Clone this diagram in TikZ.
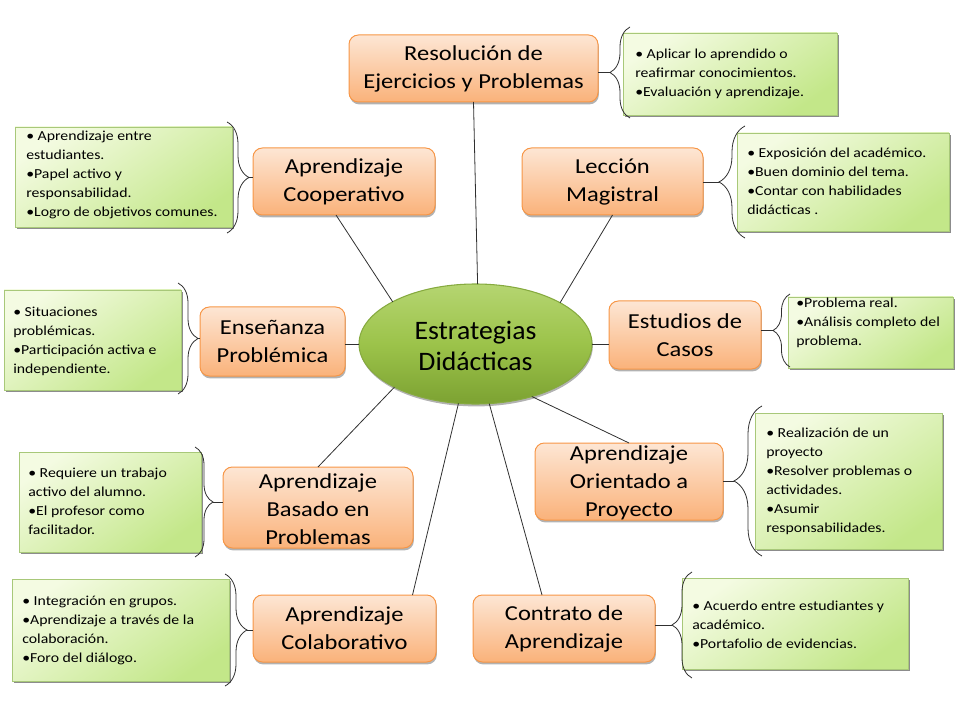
\documentclass[tikz,border=0pt]{standalone}
\usepackage{fontspec}
\setmainfont{Carlito}
\newfontfamily\boxfont[FakeStretch=1.15]{Carlito}
\newfontfamily\ellfont[FakeStretch=1.04]{Carlito}
\newfontfamily\notefont[FakeStretch=1.15]{Carlito}
\usetikzlibrary{shapes.geometric,shadows,decorations.pathreplacing}
\definecolor{obord}{HTML}{F79646}
\definecolor{otop}{HTML}{FDE6D4}
\definecolor{obot}{HTML}{FAB27A}
\definecolor{gtop}{HTML}{F4FBE2}
\definecolor{gbot}{HTML}{C3E789}
\definecolor{gbord}{HTML}{A8C879}
\definecolor{etop}{HTML}{B5D571}
\definecolor{emid}{HTML}{9CC34A}
\definecolor{ebot}{HTML}{7CA232}
\definecolor{ebord}{HTML}{86AA3F}
\definecolor{lnc}{HTML}{303030}
\begin{document}
\begin{tikzpicture}[x=0.75pt,y=-0.75pt,
  obox/.style={draw=obord, line width=0.75pt, rounded corners=7pt,
    top color=otop, bottom color=obot, inner sep=0pt, outer sep=0pt,
    drop shadow={shadow xshift=0.6pt, shadow yshift=-1.8pt, opacity=0.3, fill=black}},
  otext/.style={align=center, inner sep=0pt, font=\boxfont\fontsize{16}{21}\selectfont},
  gnote/.style={draw=gbord, line width=0.6pt, anchor=north west, inner sep=0pt, outer sep=0pt,
    top color=gtop, bottom color=gbot, shading angle=35,
    drop shadow={shadow xshift=1.8pt, shadow yshift=-1.8pt, opacity=0.45, fill=black}},
  ntext/.style={anchor=base west, inner sep=0pt, font=\notefont\fontsize{10.3}{14.25}\selectfont},
  brc/.style={draw=lnc, line width=0.6pt, decorate, decoration={brace, amplitude=#1}},
  conn/.style={draw=lnc, line width=0.6pt}
]
\useasboundingbox (0,0) rectangle (960,720);

% ---------- green notes ----------
\node[gnote, minimum width=160.5pt, minimum height=61.5pt] (nA) at (623,33) {};
\node[gnote, minimum width=162.75pt, minimum height=75pt] (nB) at (15,127) {};
\node[gnote, minimum width=159pt, minimum height=73.5pt] (nC) at (737,133) {};
\node[gnote, minimum width=132.75pt, minimum height=75pt] (nD) at (4,290) {};
\node[gnote, minimum width=123.75pt, minimum height=53.25pt] (nE) at (788,297) {};
\node[gnote, minimum width=140.25pt, minimum height=102pt] (nF) at (755,413) {};
\node[gnote, minimum width=136.5pt, minimum height=75pt] (nG) at (19,452) {};
\node[gnote, minimum width=162.75pt, minimum height=76.5pt] (nH) at (12,579) {};
\node[gnote, minimum width=169.5pt, minimum height=68.25pt] (nI) at (682,578) {};

% ---------- note texts ----------
\node[ntext] (xA) at (635,59) {\parbox[t]{170pt}{\raggedright
 • Aplicar lo aprendido o\\reafirmar conocimientos.\\•Evaluación y aprendizaje.}};
\node[ntext] (xB) at (26,141) {\parbox[t]{170pt}{\raggedright
 • Aprendizaje entre\\estudiantes.\\•Papel activo y\\responsabilidad.\\•Logro de objetivos comunes.}};
\node[ntext] (xC) at (747,158) {\parbox[t]{170pt}{\raggedright
 • Exposición del académico.\\•Buen dominio del tema.\\•Contar con habilidades\\didácticas .}};
\node[ntext] (xD) at (13,316) {\parbox[t]{170pt}{\raggedright
 • Situaciones\\problémicas.\\•Participación activa e\\independiente.}};
\node[ntext] (xE) at (796,307) {\parbox[t]{170pt}{\raggedright
 •Problema real.\\•Análisis completo del\\problema.}};
\node[ntext] (xF) at (766,437) {\parbox[t]{170pt}{\raggedright
 • Realización de un\\proyecto\\•Resolver problemas o\\actividades.\\•Asumir\\responsabilidades.}};
\node[ntext] (xG) at (28,477) {\parbox[t]{170pt}{\raggedright
 • Requiere un trabajo\\activo del alumno.\\•El profesor como\\facilitador.}};
\node[ntext] (xH) at (22,605) {\parbox[t]{170pt}{\raggedright
 • Integración en grupos.\\•Aprendizaje a través de la\\colaboración.\\•Foro del diálogo.}};
\node[ntext] (xI) at (692,610) {\parbox[t]{170pt}{\raggedright
 • Acuerdo entre estudiantes y\\académico.\\•Portafolio de evidencias.}};

% ---------- central ellipse ----------
\node[ellipse, draw=ebord, line width=0.8pt, inner sep=0pt, outer sep=0pt,
  minimum width=174.75pt, minimum height=90pt,
  top color=etop, bottom color=ebot, middle color=emid,
  drop shadow={shadow xshift=0.6pt, shadow yshift=-1.8pt, opacity=0.3, fill=black}]
  (ell) at (475.5,344) {};
\node[align=center, inner sep=0pt, font=\ellfont\fontsize{20}{23.5}\selectfont] (tell) at (475.5,346) {Estrategias\\Didácticas};

% ---------- orange boxes ----------
\node[obox, minimum width=186.75pt, minimum height=50.25pt] (res) at (473.5,68.5) {};
\node[obox, minimum width=136.5pt, minimum height=50.25pt] (coop) at (344,181.5) {};
\node[obox, minimum width=135.75pt, minimum height=50.25pt] (lec) at (612.5,181.5) {};
\node[obox, minimum width=108.75pt, minimum height=51.75pt] (ens) at (272.5,341.5) {};
\node[obox, minimum width=114pt, minimum height=51pt] (est) at (685,335) {};
\node[obox, minimum width=141pt, minimum height=57.75pt] (proy) at (629,481.5) {};
\node[obox, minimum width=142.5pt, minimum height=60.75pt] (bas) at (318,507.5) {};
\node[obox, minimum width=137.25pt, minimum height=50.25pt] (colab) at (344.5,628.5) {};
\node[obox, minimum width=136.5pt, minimum height=50.25pt] (contr) at (564,628.5) {};

\node[otext] (tres) at (res.center) {Resolución de\\Ejercicios y Problemas};
\node[otext] (tcoop) at (coop.center) {Aprendizaje\\Cooperativo};
\node[otext] (tlec) at (lec.center) {Lección\\Magistral};
\node[otext] (tens) at (ens.center) {Enseñanza\\Problémica};
\node[otext] (test) at (est.center) {Estudios de\\Casos};
\node[otext] (tproy) at ([yshift=-1pt]proy.center) {Aprendizaje\\Orientado a\\Proyecto};
\node[otext] (tbas) at ([yshift=-1pt]bas.center) {Aprendizaje\\Basado en\\Problemas};
\node[otext] (tcolab) at (colab.center) {Aprendizaje\\Colaborativo};
\node[otext] (tcontr) at (contr.center) {Contrato de\\Aprendizaje};

% ---------- connectors centre -> boxes ----------
\draw[conn] (ell.88) -- (res.south);
\draw[conn] (ell.153) -- ([xshift=-6pt]coop.south);
\draw[conn] (ell.26) -- (lec.south);
\draw[conn] (ell.west) -- (ell.west -| ens.east);
\draw[conn] (ell.east) -- (ell.east -| est.west);
\draw[conn] (ell.317) -- (proy.north);
\draw[conn] (ell.208) -- (bas.north);
\draw[conn] (ell.254) -- ([xshift=51pt]colab.north);
\draw[conn] (ell.283) -- ([xshift=-16.5pt]contr.north);

% ---------- braces ----------
\draw[brc=15pt] (630,118) -- (630,27);
\coordinate (kA) at (610,72.5);
\draw[conn] (kA -| res.east) -- (kA);

\draw[brc=16.5pt] (227,122) -- (227,233);
\coordinate (kB) at (249,177.5);
\draw[conn] (kB) -- (kB -| coop.west);

\draw[brc=19.5pt] (745,238) -- (745,126);
\coordinate (kC) at (719,182);
\draw[conn] (kC -| lec.east) -- (kC);

\draw[brc=15pt] (178,283) -- (178,394);
\coordinate (kD) at (198,338.5);
\draw[conn] (kD) -- (kD -| ens.west);

\draw[brc=12.75pt] (790,367) -- (790,294);
\coordinate (kE) at (773,330.5);
\draw[conn] (kE -| est.east) -- (kE);

\draw[brc=21pt] (762,556) -- (762,406);
\coordinate (kF) at (734,481);
\draw[conn] (kF -| proy.east) -- (kF);

\draw[brc=13.5pt] (195,447) -- (195,557);
\coordinate (kG) at (213,502);
\draw[conn] (kG) -- (kG -| bas.west);

\draw[brc=16.5pt] (225,574) -- (225,686);
\coordinate (kH) at (247,630);
\draw[conn] (kH) -- (kH -| colab.west);

\draw[brc=15pt] (692,678) -- (692,572);
\coordinate (kI) at (672,625);
\draw[conn] (kI -| contr.east) -- (kI);
\end{tikzpicture}
\end{document}
